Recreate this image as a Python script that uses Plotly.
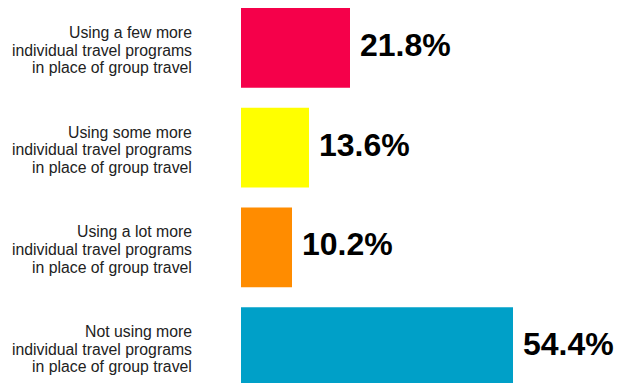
import plotly.graph_objects as go

# Survey answers (top to bottom) and their shares in percent
categories = [
    "Using a few more individual travel programs in place of group travel",
    "Using some more individual travel programs in place of group travel",
    "Using a lot more individual travel programs in place of group travel",
    "Not using more individual travel programs in place of group travel",
]
label_lines = [
    ["Using a few more", "individual travel programs", "in place of group travel"],
    ["Using some more", "individual travel programs", "in place of group travel"],
    ["Using a lot more", "individual travel programs", "in place of group travel"],
    ["Not using more", "individual travel programs", "in place of group travel"],
]
shares = [21.8, 13.6, 10.2, 54.4]
bar_colors = ["#F5004A", "#FFFF00", "#FF8C00", "#00A0C8"]

fig = go.Figure(
    go.Bar(
        x=shares,
        y=categories,
        orientation="h",
        width=0.8,
        marker=dict(color=bar_colors, line=dict(width=0)),
        hoverinfo="skip",
    )
)

annotations = []
for cat, val, lines in zip(categories, shares, label_lines):
    # value label right of each bar
    annotations.append(dict(
        x=val, y=cat, xref="x", yref="y",
        text=f"{val:.1f}%", showarrow=False,
        xanchor="left", yanchor="middle", xshift=8, yshift=3,
        font=dict(family="Liberation Sans, Arial, Helvetica",
                  size=32, color="#000000", weight="bold"),
    ))
    # three-line category label, right aligned left of the bars
    for i, line in enumerate(lines):
        annotations.append(dict(
            x=0, y=cat, xref="x", yref="y",
            text=line, showarrow=False,
            xanchor="right", yanchor="middle", xshift=-47,
            yshift=15.5 - 17.7 * i,
            font=dict(family="Liberation Sans, Arial, Helvetica", size=15.8, color="#222222"),
        ))

fig.update_layout(
    width=617, height=383,
    margin=dict(l=241, r=0, t=0, b=0),
    paper_bgcolor="white", plot_bgcolor="white",
    showlegend=False,
    bargap=0.2,
    annotations=annotations,
    xaxis=dict(range=[0, 75.2], visible=False, fixedrange=True),
    yaxis=dict(
        categoryorder="array", categoryarray=categories,
        range=[3.36, -0.48], visible=False, fixedrange=True,
    ),
)

fig.write_html("out.html", config={"displayModeBar": False})
